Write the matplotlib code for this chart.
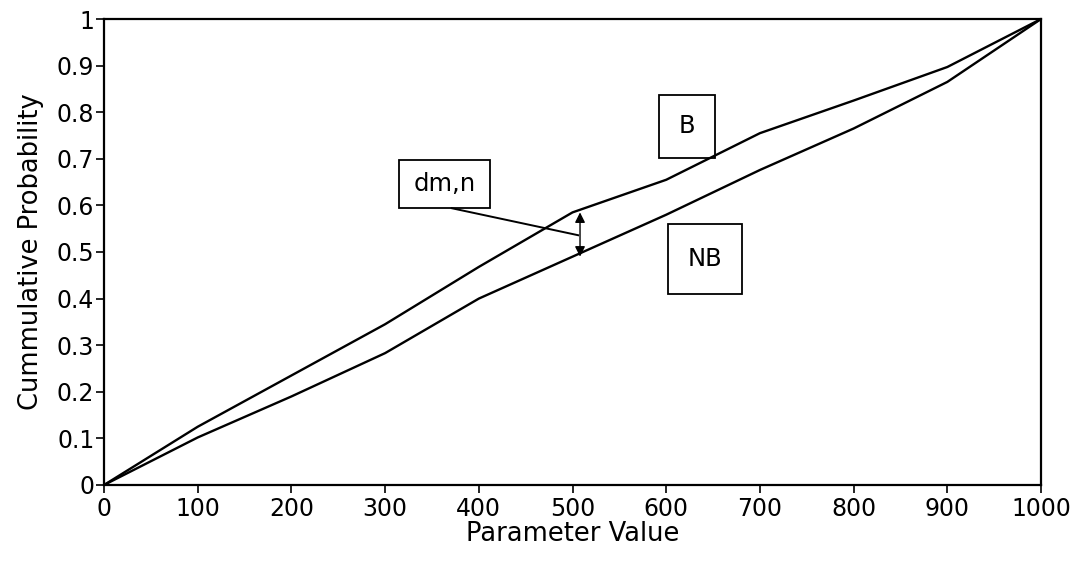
import matplotlib
matplotlib.use("Agg")
import matplotlib.pyplot as plt
from matplotlib.patches import Rectangle

plt.rcParams['font.family'] = ['DejaVu Sans']

param = [0, 100, 200, 300, 400, 500, 600, 700, 800, 900, 1000]
b_vals = [0, 0.125, 0.235, 0.345, 0.468, 0.585, 0.655, 0.755, 0.825, 0.897, 1.0]
nb_vals = [0, 0.102, 0.19, 0.283, 0.40, 0.49, 0.58, 0.676, 0.765, 0.865, 1.0]
xticks = list(range(0, 1001, 100))
yticks = [0, 0.1, 0.2, 0.3, 0.4, 0.5, 0.6, 0.7, 0.8, 0.9, 1]
ytick_labels = ['0', '0.1', '0.2', '0.3', '0.4', '0.5', '0.6', '0.7', '0.8', '0.9', '1']

fig = plt.figure(figsize=(10.78, 5.64), dpi=100)
ax = fig.add_axes([0.0965, 0.1401, 0.8692, 0.8262])

ax.plot(param, b_vals, color='black', lw=1.7)
ax.plot(param, nb_vals, color='black', lw=1.7)

ax.set_xlim(0, 1000)
ax.set_ylim(0, 1)
ax.set_xticks(xticks)
ax.set_xticklabels([str(t) for t in xticks])
ax.set_yticks(yticks)
ax.set_yticklabels(ytick_labels)
ax.tick_params(direction='out', length=6, width=1.2, labelsize=17, colors='black')
ax.tick_params(axis='y', pad=1)
ax.tick_params(axis='x', pad=3)
for s in ax.spines.values():
    s.set_linewidth(1.6)

ax.set_xlabel('Parameter Value', fontsize=18.5, labelpad=0)
ax.set_ylabel('Cummulative Probability', fontsize=18.5, labelpad=9)

# boxes with labels
def box(x0, x1, y0, y1, label):
    ax.add_patch(Rectangle((x0, y0), x1 - x0, y1 - y0, fill=False,
                           edgecolor='black', lw=1.3, clip_on=False))
    ax.text((x0 + x1) / 2, (y0 + y1) / 2, label, ha='center', va='center',
            fontsize=17.5)

box(315, 412, 0.594, 0.697, 'dm,n')
box(592, 652, 0.702, 0.837, 'B')
box(602, 681, 0.410, 0.560, 'NB')

# leader line from dm,n box to the gap
ax.plot([371, 506], [0.594, 0.536], color='black', lw=1.4)
# double-headed arrow across the gap
ax.annotate('', xy=(508, 0.585), xytext=(508, 0.49),
            arrowprops=dict(arrowstyle='<|-|>', color='black', lw=1.0,
                            mutation_scale=15, shrinkA=0, shrinkB=0))

fig.savefig('out.png', dpi=100)
